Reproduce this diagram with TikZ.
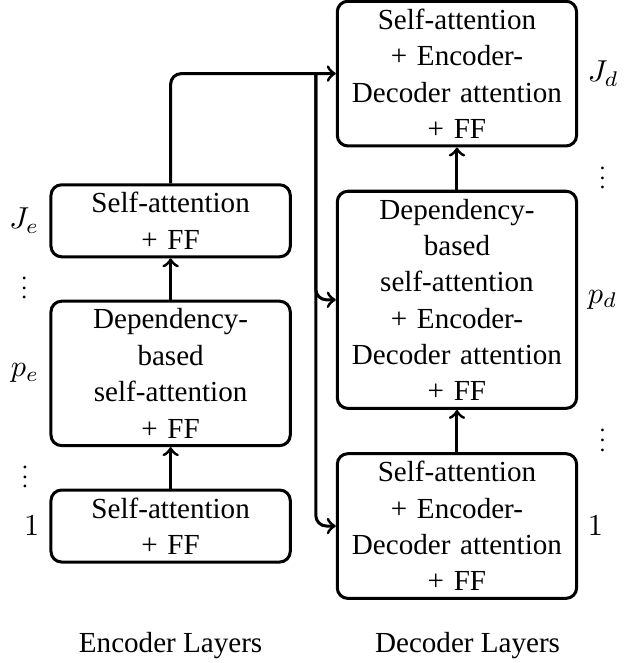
\documentclass[tikz,border=0pt]{standalone}
\usepackage{fontspec}
\setmainfont{Liberation Serif}
\usetikzlibrary{positioning,calc}

\begin{document}
\begin{tikzpicture}[
  font=\fontsize{9.6}{12}\selectfont,
  layer/.style={draw, line width=1pt, rounded corners=3.5pt, align=center,
                text width=2.6cm, inner sep=2.5pt},
  idx/.style={inner sep=0pt},
  gapdots/.style={inner sep=0pt, anchor=south, scale=.8},
  arrow/.style={->, line width=1pt},
  link/.style={->, line width=1pt, rounded corners=3.5pt}
]
\useasboundingbox (-150.8pt,-45.2pt) rectangle (58.7pt,173.6pt);
% decoder stack
\node[layer] (dec1) at (0,0)
  {Self-attention\\+ Encoder-\\Decoder attention\\+ FF};
\node[layer, above=4.9mm of dec1] (dec2)
  {Dependency-\\based\\self-attention\\+ Encoder-\\Decoder attention\\+ FF};
\node[layer, above=4.9mm of dec2] (dec3)
  {Self-attention\\+ Encoder-\\Decoder attention\\+ FF};
% encoder stack
\node[layer, left=5.1mm of dec1] (enc1) {Self-attention\\+ FF};
\node[layer, above=4.8mm of enc1] (enc2)
  {Dependency-\\based\\self-attention\\+ FF};
\node[layer, above=4.8mm of enc2] (enc3) {Self-attention\\+ FF};
% layer indices
\node[idx, left=3.2pt of enc3] (je) {$J_e$};
\node[idx, left=3.2pt of enc2] (pe) {$p_e$};
\node[idx, left=3.2pt of enc1] (ie) {$1$};
\node[idx, right=3pt of dec3] (jd) {$J_d$};
\node[idx, right=3pt of dec2] (pd) {$p_d$};
\node[idx, right=3pt of dec1] (id) {$1$};
\node[gapdots] (d1) at (je |- enc2.north) {$\vdots$};
\node[gapdots] (d2) at (pe |- enc1.north) {$\vdots$};
\node[gapdots] (d3) at (pd |- dec2.north) {$\vdots$};
\node[gapdots] (d4) at (pd |- dec1.north) {$\vdots$};
% captions
\node[below=2.5mm of dec1, xshift=3.5pt] (declbl) {Decoder Layers};
\node (enclbl) at (enc1 |- declbl) {Encoder Layers};
% connections
\draw[arrow] (enc1) -- (enc2);
\draw[arrow] (enc2) -- (enc3);
\draw[arrow] (dec1) -- (dec2);
\draw[arrow] (dec2) -- (dec3);
\draw[link] (enc3.north) |- (dec3.west);
\coordinate[left=6.6pt of dec3.west] (split);
\draw[link] (split) |- (dec2.west);
\draw[link] (split) |- (dec1.west);
\end{tikzpicture}
\end{document}
